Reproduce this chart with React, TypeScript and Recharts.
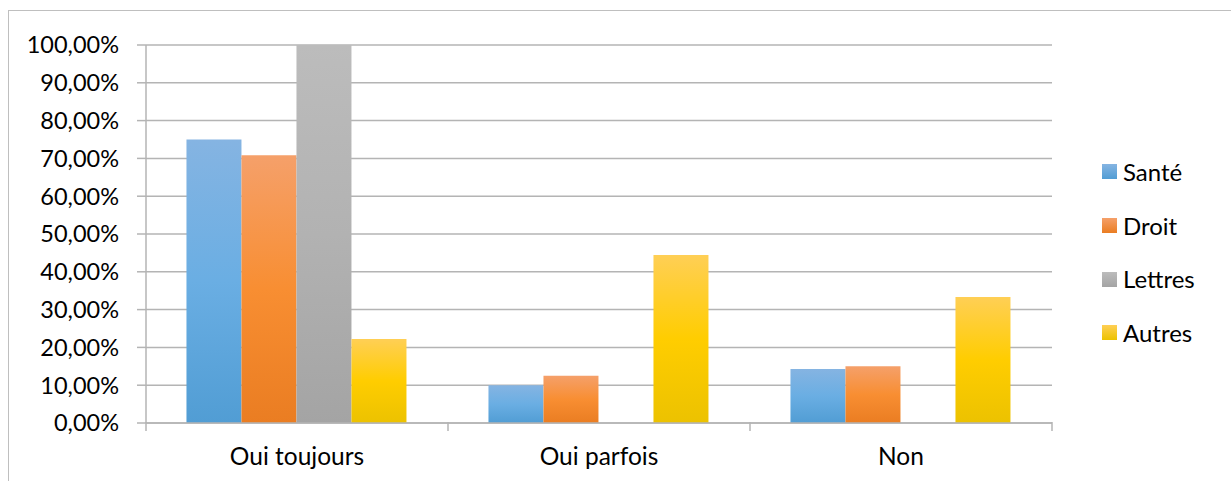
import React from 'react';
import { BarChart, Bar, XAxis, YAxis, CartesianGrid } from 'recharts';

const categories = ['Oui toujours', 'Oui parfois', 'Non'];
const sante = [0.75, 0.1, 0.1429];
const droit = [0.7083, 0.125, 0.15];
const lettres = [1.0, 0, 0];
const autres = [0.2222, 0.4444, 0.3333];
const yTicks = [0, 0.1, 0.2, 0.3, 0.4, 0.5, 0.6, 0.7, 0.8, 0.9, 1.0];

const seriesNames = ['Santé', 'Droit', 'Lettres', 'Autres'];
const seriesKeys = ['sante', 'droit', 'lettres', 'autres'];
const gradIds = ['gSante', 'gDroit', 'gLettres', 'gAutres'];
const gradTop = ['#85b4e2', '#f5a06a', '#bcbcbc', '#ffcf55'];
const gradMid = ['#6aaee3', '#f88e32', '#b2b2b2', '#ffcd00'];
const gradBot = ['#519dd4', '#ea7d22', '#a4a4a4', '#ecc200'];

const data = categories.map((c, i) => ({
  name: c,
  sante: sante[i],
  droit: droit[i],
  lettres: lettres[i],
  autres: autres[i],
}));

const FONT = 'Lato, "Open Sans", sans-serif';

const fmt = (v: number) => (v * 100).toFixed(2).replace('.', ',') + '%';

const XTick = (props: any) => {
  const { x, y, payload, index, visibleTicksCount, width } = props;
  const bw = width / visibleTicksCount;
  const top = y - 9;
  return (
    <g>
      <line x1={x - bw / 2} x2={x - bw / 2} y1={top} y2={top + 9} stroke="#b4b4b4" strokeWidth={1.5} />
      {index === visibleTicksCount - 1 && (
        <line x1={x + bw / 2} x2={x + bw / 2} y1={top} y2={top + 9} stroke="#b4b4b4" strokeWidth={1.5} />
      )}
      <text x={x} y={top + 43} textAnchor="middle" fill="#000" fontSize={24.5} fontFamily={FONT}>
        {payload.value}
      </text>
    </g>
  );
};

export default function App() {
  return (
    <div style={{ position: 'absolute', left: 0, top: 0, width: 1231, height: 481, overflow: 'hidden', background: '#fff' }}>
      <div
        style={{
          position: 'absolute',
          left: 8,
          top: 10,
          width: 1300,
          height: 600,
          borderTop: '1.5px solid #bfbfbf',
          borderLeft: '1.5px solid #bfbfbf',
        }}
      />
      <div style={{ position: 'absolute', left: 0, top: 0 }}>
        <BarChart
          width={1231}
          height={481}
          data={data}
          margin={{ top: 45, right: 179, bottom: 0, left: 0 }}
          barCategoryGap="13.4%"
          barGap={0}
        >
          <defs>
            {gradIds.map((g, i) => (
              <linearGradient key={g} id={g} x1="0" y1="0" x2="0" y2="1">
                <stop offset="0%" stopColor={gradTop[i]} />
                <stop offset="50%" stopColor={gradMid[i]} />
                <stop offset="100%" stopColor={gradBot[i]} />
              </linearGradient>
            ))}
          </defs>
          <CartesianGrid vertical={false} stroke="#b4b4b4" strokeWidth={1.5} />
          <XAxis
            dataKey="name"
            axisLine={{ stroke: '#b4b4b4', strokeWidth: 1.5 }}
            tickLine={false}
            tick={<XTick />}
            interval={0}
            height={58}
          />
          <YAxis
            domain={[0, 1]}
            ticks={yTicks}
            tickFormatter={fmt}
            width={146}
            interval={0}
            axisLine={{ stroke: '#b4b4b4', strokeWidth: 1.5 }}
            tickLine={{ stroke: '#b4b4b4', strokeWidth: 1.5 }}
            tickSize={9}
            tickMargin={18}
            tick={{ fill: '#000', fontSize: 23.5, fontFamily: FONT }}
          />
          {seriesKeys.map((k, i) => (
            <Bar key={k} dataKey={k} name={seriesNames[i]} fill={`url(#${gradIds[i]})`} isAnimationActive={false} />
          ))}
        </BarChart>
      </div>
      <div style={{ position: 'absolute', left: 1102, top: 145, fontFamily: FONT, fontSize: 24, color: '#000' }}>
        {seriesNames.map((n, i) => (
          <div key={n} style={{ display: 'flex', alignItems: 'center', height: 53.7 }}>
            <svg width={15} height={15} style={{ marginRight: 6, display: 'block' }}>
              <defs>
                <linearGradient id={`${gradIds[i]}L`} x1="0" y1="0" x2="0" y2="1">
                  <stop offset="0%" stopColor={gradTop[i]} />
                  <stop offset="100%" stopColor={gradBot[i]} />
                </linearGradient>
              </defs>
              <rect width={15} height={15} fill={`url(#${gradIds[i]}L)`} />
            </svg>
            <span style={{ lineHeight: 1 }}>{n}</span>
          </div>
        ))}
      </div>
    </div>
  );
}
